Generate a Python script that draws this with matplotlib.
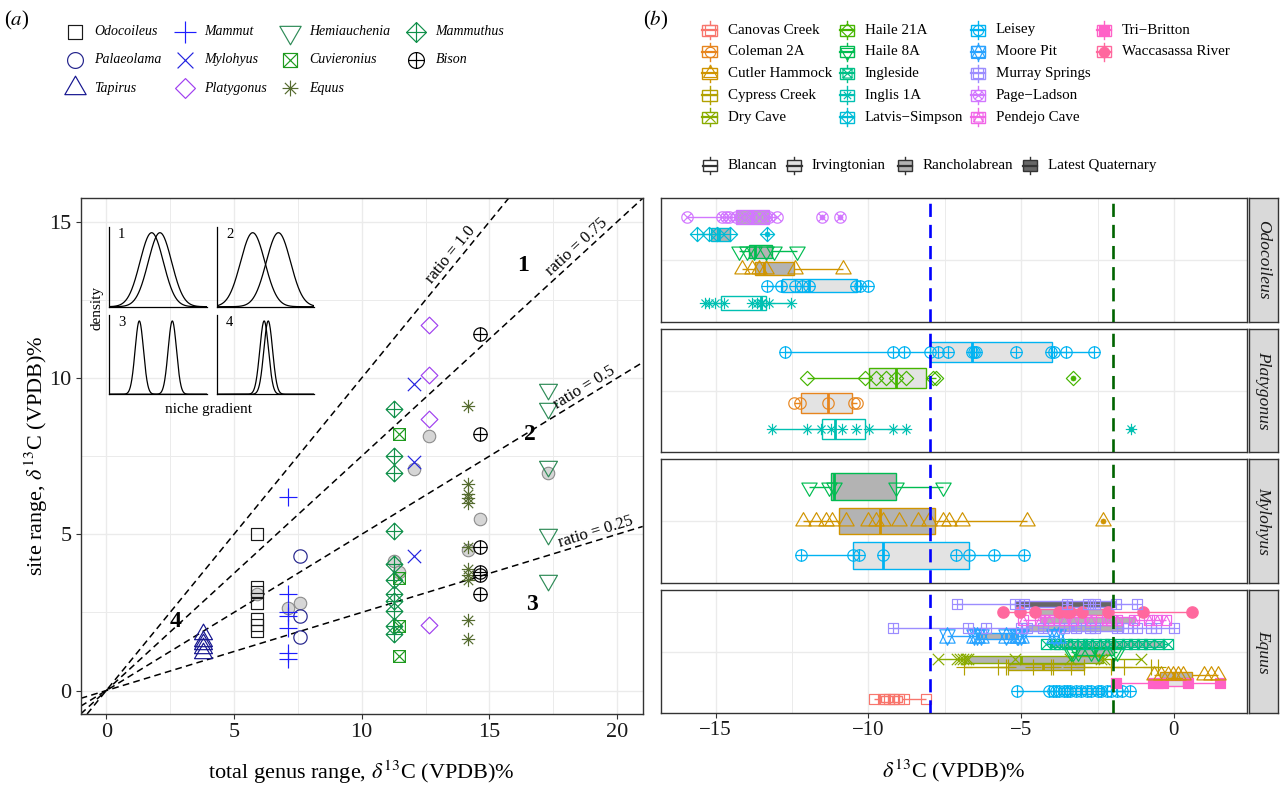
import numpy as np
import matplotlib
matplotlib.use("Agg")
import matplotlib.pyplot as plt
from matplotlib.path import Path
from matplotlib.patches import Rectangle

plt.rcParams['font.family'] = ['Liberation Serif', 'DejaVu Serif']
plt.rcParams['mathtext.fontset'] = 'stix'
plt.rcParams['axes.unicode_minus'] = True

W, H = 1282, 787

# ------------------------------------------------------------------ panel (a) data
genera = ['Odocoileus', 'Palaeolama', 'Tapirus', 'Mammut', 'Mylohyus', 'Platygonus',
          'Hemiauchenia', 'Cuvieronius', 'Equus', 'Mammuthus', 'Bison']
genus_total = [5.9, 7.6, 3.8, 7.1, 12.05, 12.65, 17.3, 11.45, 14.15, 11.25, 14.65]
odocoileus_sr = [5.0, 3.3, 3.15, 2.8, 2.3, 2.1, 1.9]
palaeolama_sr = [4.3, 2.4, 1.7]
tapirus_sr = [1.8, 1.6, 1.5, 1.35, 1.2]
mammut_sr = [6.2, 3.1, 2.5, 2.4, 2.0, 1.2, 1.0]
mylohyus_sr = [9.8, 7.3, 4.3]
platygonus_sr = [11.7, 10.1, 8.7, 2.1]
hemiauchenia_sr = [9.65, 9.05, 7.2, 5.0, 3.55]
cuvieronius_sr = [8.2, 3.6, 2.05, 1.1]
equus_sr = [9.1, 6.6, 6.3, 6.15, 6.0, 4.6, 3.9, 3.7, 3.55, 2.25, 1.65]
mammuthus_sr = [9.0, 7.5, 6.95, 5.1, 4.05, 3.55, 3.1, 2.85, 2.55, 2.05, 1.8]
bison_sr = [11.4, 8.2, 4.6, 3.8, 3.7, 3.1]
genus_site_ranges = [odocoileus_sr, palaeolama_sr, tapirus_sr, mammut_sr, mylohyus_sr,
                     platygonus_sr, hemiauchenia_sr, cuvieronius_sr, equus_sr,
                     mammuthus_sr, bison_sr]
genus_colors = ['#1A1A1A', '#23238C', '#14148F', '#1E1EFF', '#2323E0', '#A040F0',
                '#2E8B57', '#1E9A1E', '#556B2F', '#10904A', '#000000']
genus_shapes = [0, 1, 2, 3, 4, 5, 6, 7, 8, 9, 10]
grey_x = [5.9, 7.1, 7.6, 12.05, 12.65, 11.25, 11.45, 14.15, 14.65, 17.3]
grey_y = [3.1, 2.65, 2.8, 7.1, 8.15, 4.15, 3.8, 4.5, 5.5, 6.95]

ratios = [1.0, 0.75, 0.5, 0.25]
ratio_labels = ['ratio = 1.0', 'ratio = 0.75', 'ratio = 0.5', 'ratio = 0.25']
ratio_label_x = [13.75, 18.65, 18.9, 19.25]
zone_labels = ['1', '2', '3', '4']
zone_x = [16.3, 16.6, 16.65, 2.7]
zone_y = [13.6, 8.2, 2.75, 2.2]

inset_means = [[0.435, 0.52], [0.365, 0.63], [0.308, 0.647], [0.483, 0.525]]
inset_sd = [0.12, 0.125, 0.043, 0.045]

# ------------------------------------------------------------------ panel (b) data
sites_all = ['Canovas Creek', 'Coleman 2A', 'Cutler Hammock', 'Cypress Creek', 'Dry Cave',
             'Haile 21A', 'Haile 8A', 'Ingleside', 'Inglis 1A', 'Latvis-Simpson', 'Leisey',
             'Moore Pit', 'Murray Springs', 'Page-Ladson', 'Pendejo Cave', 'Tri-Britton',
             'Waccasassa River']
periods_all = ['Blancan', 'Irvingtonian', 'Rancholabrean', 'Latest Quaternary']
period_fill = ['#FFFFFF', '#E3E3E3', '#B3B3B3', '#666666']

# rows listed bottom -> top; box = (q1, median, q3, whisker low, whisker high)
odo_sites = ['Inglis 1A', 'Leisey', 'Cutler Hammock', 'Haile 8A', 'Latvis-Simpson', 'Page-Ladson']
odo_periods = ['Blancan', 'Irvingtonian', 'Rancholabrean', 'Rancholabrean', 'Rancholabrean', 'Rancholabrean']
odo_boxes = [(-14.83, -13.53, -13.37, -15.36, -12.55),
             (-12.83, -11.95, -10.37, -13.32, -10.0),
             (-13.72, -13.42, -12.44, -14.15, -10.82),
             (-13.91, -13.7, -13.15, -14.24, -12.33),
             (-15.17, -14.9, -14.52, -15.61, -14.52),
             (-14.35, -13.8, -13.26, -15.93, -12.99)]
odo_points = [[-15.36, -15.21, -15.01, -14.74, -13.81, -13.65, -13.53, -13.48, -13.26, -12.55],
              [-13.32, -12.85, -12.39, -12.17, -11.95, -10.42, -10.29, -10.0],
              [-14.15, -13.8, -13.59, -13.37, -12.39, -10.82],
              [-14.24, -13.97, -13.75, -13.37, -13.09, -12.33],
              [-15.61, -15.23, -14.95, -14.52, -13.32],
              [-15.93, -14.79, -14.68, -14.57, -14.35, -14.19, -13.91, -13.8, -13.59, -13.37,
               -13.26, -12.99, -11.53, -10.93]]

pla_sites = ['Inglis 1A', 'Coleman 2A', 'Haile 21A', 'Leisey']
pla_periods = ['Blancan', 'Irvingtonian', 'Irvingtonian', 'Irvingtonian']
pla_boxes = [(-11.51, -11.08, -10.11, -13.15, -8.77),
             (-12.22, -11.31, -10.53, -12.43, -10.36),
             (-9.98, -9.1, -8.12, -12.02, -7.79),
             (-8.0, -6.62, -4.0, -12.73, -2.61)]
pla_points = [[-13.15, -12.0, -11.57, -11.24, -10.86, -10.42, -9.98, -9.21, -8.77, -1.4],
              [-12.43, -12.25, -11.31, -10.47, -10.36],
              [-12.02, -10.11, -9.76, -9.43, -9.1, -8.77, -7.9, -7.79, -3.29],
              [-12.73, -9.21, -8.83, -8.0, -7.73, -7.4, -6.62, -6.55, -6.48, -5.17, -4.03,
               -3.92, -3.54, -2.61]]

myl_sites = ['Leisey', 'Cutler Hammock', 'Haile 8A']
myl_periods = ['Irvingtonian', 'Rancholabrean', 'Rancholabrean']
myl_boxes = [(-10.5, -9.51, -6.7, -12.22, -4.92),
             (-10.96, -9.61, -7.81, -12.16, -4.81),
             (-11.22, -11.13, -9.1, -11.95, -7.57)]
myl_points = [[-12.22, -10.52, -10.3, -9.51, -7.14, -6.7, -5.88, -4.92],
              [-12.16, -11.72, -11.4, -11.18, -10.74, -10.03, -9.76, -9.54, -8.99, -8.39,
               -8.01, -7.55, -7.35, -6.93, -4.81, -2.31],
              [-11.95, -11.3, -11.13, -9.1, -7.57]]

equ_sites = ['Canovas Creek', 'Leisey', 'Tri-Britton', 'Cutler Hammock', 'Cypress Creek',
             'Dry Cave', 'Haile 8A', 'Ingleside', 'Moore Pit', 'Murray Springs',
             'Pendejo Cave', 'Waccasassa River', 'Murray Springs']
equ_periods = ['Blancan', 'Irvingtonian', 'Irvingtonian', 'Rancholabrean', 'Rancholabrean',
               'Rancholabrean', 'Rancholabrean', 'Rancholabrean', 'Rancholabrean',
               'Rancholabrean', 'Rancholabrean', 'Rancholabrean', 'Latest Quaternary']
equ_boxes = [(-9.6, -9.2, -8.9, -9.82, -8.12),
             (-3.75, -3.05, -2.3, -5.15, -1.45),
             (-0.65, -0.44, 0.3, -1.89, 1.52),
             (-0.45, 0.0, 0.6, -0.64, 1.44),
             (-5.44, -4.3, -2.93, -6.86, -0.52),
             (-6.86, -5.0, -2.33, -7.72, -1.07),
             (-3.2, -2.6, -1.95, -3.36, -1.85),
             (-4.0, -2.9, -0.35, -4.18, -0.2),
             (-6.48, -5.5, -5.11, -7.42, -3.8),
             (-4.78, -3.3, -1.66, -9.2, 0.0),
             (-4.4, -2.9, -1.28, -4.95, -0.25),
             (-4.55, -3.45, -2.1, -5.6, 0.6),
             (-5.2, -3.5, -1.94, -7.1, -1.2)]
equ_points = [[-9.82, -9.54, -9.45, -9.32, -9.2, -9.16, -9.0, -8.83, -8.12],
              [-5.15, -4.1, -3.95, -3.85, -3.75, -3.6, -3.5, -3.4, -3.2, -3.05, -2.85, -2.7,
               -2.5, -2.4, -2.2, -2.05, -1.85, -1.7, -1.45],
              [-1.89, -0.69, -0.52, -0.36, 0.46, 1.52],
              [-0.64, -0.41, -0.2, -0.03, 0.13, 0.3, 1.0, 1.23, 1.44],
              [-6.86, -5.77, -5.5, -5.44, -4.62, -4.02, -3.97, -3.36, -2.93, -2.06, -1.62,
               -0.75, -0.52],
              [-7.72, -7.1, -7.0, -6.9, -6.8, -6.75, -5.2, -3.4, -2.4, -2.3, -1.07],
              [-3.36, -3.3, -3.15, -2.71, -2.5, -2.47, -1.95, -1.85],
              [-4.18, -3.9, -3.75, -3.5, -3.3, -3.0, -2.8, -2.55, -2.3, -2.1, -1.8, -1.55,
               -1.3, -1.05, -0.8, -0.5, -0.2],
              [-7.42, -6.54, -6.45, -6.3, -5.5, -5.15, -5.1, -5.0, -3.92, -3.8],
              [-9.2, -6.75, -6.15, -5.0, -4.8, -4.3, -3.6, -3.2, -2.75, -2.6, -1.85, -1.5,
               -1.2, -0.75, -0.6, 0.0],
              [-4.95, -4.4, -4.1, -3.6, -3.3, -2.7, -2.2, -2.05, -1.85, -1.3, -0.8, -0.55, -0.25],
              [-5.6, -5.05, -4.55, -3.75, -3.5, -3.4, -3.0, -2.15, -1.0, 0.6],
              [-7.1, -5.2, -4.9, -3.5, -2.8, -2.6, -1.9, -1.2]]

facet_names = ['Odocoileus', 'Platygonus', 'Mylohyus', 'Equus']
facet_sites = [odo_sites, pla_sites, myl_sites, equ_sites]
facet_periods = [odo_periods, pla_periods, myl_periods, equ_periods]
facet_boxes = [odo_boxes, pla_boxes, myl_boxes, equ_boxes]
facet_points = [odo_points, pla_points, myl_points, equ_points]
ref_lines = [-8.0, -2.0]
ref_colors = ['#0000FF', '#006400']


# ------------------------------------------------------------------ helpers
def hcl_hex(h, c=100.0, l=65.0):
    hr = np.deg2rad(h)
    U, V = c * np.cos(hr), c * np.sin(hr)
    Xn, Yn, Zn = 95.047, 100.0, 108.883
    Y = Yn * ((l + 16) / 116) ** 3
    den = Xn + 15 * Yn + 3 * Zn
    un, vn = 4 * Xn / den, 9 * Yn / den
    u = U / (13 * l) + un
    v = V / (13 * l) + vn
    X = 9.0 * Y * u / (4 * v)
    Z = -X / 3 - 5 * Y + 3 * Y / v
    X, Y, Z = X / 100, Y / 100, Z / 100
    r = 3.240479 * X - 1.537150 * Y - 0.498535 * Z
    g = -0.969256 * X + 1.875992 * Y + 0.041556 * Z
    b = 0.055648 * X - 0.204043 * Y + 1.057311 * Z

    def gam(t):
        t = 12.92 * t if t <= 0.0031308 else 1.055 * t ** (1 / 2.4) - 0.055
        return min(max(t, 0), 1)
    return '#%02X%02X%02X' % tuple(int(round(gam(t) * 255)) for t in (r, g, b))


nsite = len(sites_all)
site_color = {s: hcl_hex(15 + 360.0 * i / nsite) for i, s in enumerate(sites_all)}
site_shape = {s: i for i, s in enumerate(sites_all)}
period_color = dict(zip(periods_all, period_fill))


def build_shapes():
    S, D, T0, T1, T2, Y6 = 0.886, 1.2533, 1.5551, 1.3468, 0.7776, 1.166
    t = np.linspace(0, 2 * np.pi, 49)
    circ = (np.c_[np.cos(t), np.sin(t)], True)
    sq = ([(-S, -S), (S, -S), (S, S), (-S, S)], True)
    dia = ([(0, D), (D, 0), (0, -D), (-D, 0)], True)

    def plus(a):
        return [([(-a, 0), (a, 0)], False), ([(0, -a), (0, a)], False)]

    def cross(a):
        return [([(-a, -a), (a, a)], False), ([(-a, a), (a, -a)], False)]
    parts = {
        0: [sq], 1: [circ],
        2: [([(0, T0), (T1, -T2), (-T1, -T2)], True)],
        3: plus(1.414), 4: cross(1.0), 5: [dia],
        6: [([(0, -T0), (T1, T2), (-T1, T2)], True)],
        7: [sq] + cross(S), 8: plus(1.0) + cross(0.707), 9: [dia] + plus(D),
        10: [circ] + plus(1.0),
        11: [([(0, T0), (T1, -Y6), (-T1, -Y6)], True), ([(0, -T0), (T1, Y6), (-T1, Y6)], True)],
        12: [sq] + plus(S), 13: [circ] + cross(0.707),
        14: [sq, ([(-S, -S), (0, S), (S, -S)], False)],
        15: [sq], 16: [circ],
    }
    out = {}
    for k, pl in parts.items():
        verts, codes = [], []
        for pts, closed in pl:
            pts = np.asarray(pts, float)
            verts.extend(pts.tolist())
            codes += [Path.MOVETO] + [Path.LINETO] * (len(pts) - 1)
            if closed:
                verts.append(pts[0].tolist())
                codes.append(Path.CLOSEPOLY)
        verts = np.array(verts)
        out[k] = (Path(verts, codes), np.abs(verts).max(), k in (15, 16))
    return out


SHAPES = build_shapes()


def draw_shape(ax, x, y, code, color, u, zorder=5, mew=0.85, clip=True):
    path, m, filled = SHAPES[code]
    ax.plot(x, y, ls='none', marker=path, ms=2 * m * u, mec=color,
            mfc=color if filled else 'none', mew=mew, zorder=zorder, clip_on=clip)


TXT = '#1A1A1A'
GRID = '#EBEBEB'
BORDER = '#333333'

fig = plt.figure(figsize=(W / 100, H / 100), dpi=100)
fig.patch.set_facecolor('white')


def fax(x0, y0, x1, y1, **kw):
    return fig.add_axes([x0 / W, 1 - y1 / H, (x1 - x0) / W, (y1 - y0) / H], **kw)


# ------------------------------------------------------------------ panel (a)
axL = fax(80.7, 198.3, 642.7, 714.0)
axL.set_xlim(-1, 21)
axL.set_ylim(-0.75, 15.75)
axL.set_xticks([0, 5, 10, 15, 20])
axL.set_yticks([0, 5, 10, 15])
axL.set_xticks(np.arange(2.5, 20, 5), minor=True)
axL.set_yticks(np.arange(2.5, 15, 5), minor=True)
axL.grid(True, which='major', color=GRID, lw=1.0, zorder=0)
axL.grid(True, which='minor', color=GRID, lw=0.7, zorder=0)
axL.set_axisbelow(True)
axL.tick_params(which='major', length=3.5, width=0.8, color=BORDER, labelsize=16,
                labelcolor=TXT, pad=3)
axL.tick_params(which='minor', length=0)
for sp in axL.spines.values():
    sp.set_color(BORDER)
    sp.set_linewidth(1.0)

for r in ratios:
    axL.axline((0, 0), slope=r, color='black', lw=1.1, ls=(0, (4.4, 2.8)), zorder=2)

axL.plot(grey_x, grey_y, ls='none', marker='o', ms=9.0, mfc='#D6D6D6', mec='#8C8C8C',
         mew=0.8, zorder=3)

uL = 4.8
for g, xt, sr, col, shp in zip(genera, genus_total, genus_site_ranges, genus_colors, genus_shapes):
    draw_shape(axL, [xt] * len(sr), sr, shp, col, uL, zorder=4)

for r, lab, lx in zip(ratios, ratio_labels, ratio_label_x):
    p0 = axL.transData.transform((0, 0))
    p1 = axL.transData.transform((1, r))
    ang = np.degrees(np.arctan2(p1[1] - p0[1], p1[0] - p0[0]))
    d = 6.5
    axL.annotate(lab, xy=(lx, r * lx), xytext=(-np.sin(np.radians(ang)) * d,
                                               np.cos(np.radians(ang)) * d),
                 textcoords='offset points', rotation=ang, rotation_mode='anchor',
                 ha='center', va='center', fontsize=12, color='black', zorder=6)

for lab, zx, zy in zip(zone_labels, zone_x, zone_y):
    axL.text(zx, zy, lab, fontsize=17, fontweight='bold', ha='center', va='center',
             color='black', zorder=6)

# insets
inset_boxes = [(109.3, 226.7, 206.7, 306.7), (217.3, 226.7, 314.3, 306.7),
               (109.3, 315.0, 206.7, 394.3), (217.3, 315.0, 314.3, 394.3)]
xs = np.linspace(0, 1, 400)
for k, (bx, mus, sd) in enumerate(zip(inset_boxes, inset_means, inset_sd)):
    ia = fax(*bx)
    ia.patch.set_alpha(0)
    peak = 1 / (sd * np.sqrt(2 * np.pi))
    for mu in mus:
        ia.plot(xs, np.exp(-0.5 * ((xs - mu) / sd) ** 2) / (sd * np.sqrt(2 * np.pi)),
                color='black', lw=0.9)
    ia.set_xlim(0, 1)
    ia.set_ylim(0, peak / 0.925)
    ia.set_xticks([])
    ia.set_yticks([])
    for s in ['top', 'right']:
        ia.spines[s].set_visible(False)
    for s in ['left', 'bottom']:
        ia.spines[s].set_color('black')
        ia.spines[s].set_linewidth(0.9)
    ia.text(0.127, 0.9, str(k + 1), transform=ia.transAxes, fontsize=10.5,
            ha='center', va='center')

fig.text(97.3 / W, 1 - 308.3 / H, 'density', rotation=90, ha='center', va='center',
         fontsize=11)
fig.text(208.3 / W, 1 - 410 / H, 'niche gradient', ha='center', va='center', fontsize=11)

fig.text(361.7 / W, 1 - 772 / H, r'total genus range, $\delta^{13}$C (VPDB)%',
         ha='center', va='center', fontsize=16)
fig.text(36 / W, 1 - 456 / H, r'site range, $\delta^{13}$C (VPDB)%', rotation=90,
         ha='center', va='center', fontsize=16)

# ------------------------------------------------------------------ panel (b)
allv = [v for fp in facet_points for row in fp for v in row]
lo_all, hi_all = min(allv), max(allv)
pad = 0.05 * (hi_all - lo_all)
xlimR = (lo_all - pad, hi_all + pad)

uR = 4.1
ph, gap, top0 = 123.5, 7.0, 198.3
for fi, name in enumerate(facet_names):
    y0 = top0 + fi * (ph + gap)
    ax = fax(660.7, y0, 1247.0, y0 + ph)
    ax.set_xlim(*xlimR)
    ax.set_ylim(0.4, 1.6)
    ax.set_xticks([-15, -10, -5, 0])
    ax.set_xticks([-12.5, -7.5, -2.5], minor=True)
    ax.set_yticks([1])
    ax.grid(True, which='major', color=GRID, lw=1.0, zorder=0)
    ax.grid(True, which='minor', axis='x', color=GRID, lw=0.7, zorder=0)
    ax.set_axisbelow(True)
    ax.tick_params(axis='y', length=0, labelleft=False)
    ax.tick_params(which='minor', length=0)
    if fi == len(facet_names) - 1:
        ax.tick_params(axis='x', which='major', length=3.5, width=0.8, color=BORDER,
                       labelsize=15, labelcolor=TXT, pad=2)
    else:
        ax.tick_params(axis='x', which='major', length=0, labelbottom=False)
    for sp in ax.spines.values():
        sp.set_color(BORDER)
        sp.set_linewidth(1.0)

    sites = facet_sites[fi]
    n = len(sites)
    for i, (s, p, b, pts) in enumerate(zip(sites, facet_periods[fi], facet_boxes[fi],
                                           facet_points[fi])):
        yc = 0.5 + (i + 0.5) / n
        hgt = 0.78 / n
        col = site_color[s]
        q1, med, q3, wlo, whi = b
        ax.plot([wlo, q1], [yc, yc], color=col, lw=1.0, zorder=2, solid_capstyle='butt')
        ax.plot([q3, whi], [yc, yc], color=col, lw=1.0, zorder=2, solid_capstyle='butt')
        ax.add_patch(Rectangle((q1, yc - hgt / 2), q3 - q1, hgt, fc=period_color[p],
                               ec=col, lw=1.0, zorder=3))
        ax.plot([med, med], [yc - hgt / 2, yc + hgt / 2], color=col, lw=2.0, zorder=4,
                solid_capstyle='butt')
        outl = [v for v in pts if v < wlo - 1e-9 or v > whi + 1e-9]
        if outl:
            ax.plot(outl, [yc] * len(outl), ls='none', marker='o', ms=3.6, mfc=col,
                    mec=col, mew=0.5, zorder=4)
        draw_shape(ax, pts, [yc] * len(pts), site_shape[s], col, uR, zorder=5)

    for xv, cv in zip(ref_lines, ref_colors):
        ax.axvline(xv, color=cv, lw=1.9, ls=(0, (5.0, 3.0)), zorder=6)

    st = fax(1249.0, y0, 1277.5, y0 + ph)
    st.set_facecolor('#D9D9D9')
    st.set_xticks([])
    st.set_yticks([])
    for sp in st.spines.values():
        sp.set_color(BORDER)
        sp.set_linewidth(1.0)
    st.text(0.5, 0.5, name, rotation=-90, style='italic', fontsize=12.5, ha='center',
            va='center', transform=st.transAxes, color=TXT)

fig.text(954 / W, 1 - 771 / H, r'$\delta^{13}$C (VPDB)%', ha='center', va='center',
         fontsize=16)

# ------------------------------------------------------------------ legends / labels
ov = fig.add_axes([0, 0, 1, 1])
ov.set_xlim(0, W)
ov.set_ylim(H, 0)
ov.axis('off')
ov.patch.set_alpha(0)

ov.text(17, 20, r'($a$)', fontsize=15, ha='center', va='center')
ov.text(656, 20, r'($b$)', fontsize=15, ha='center', va='center')

# genus legend
leg_cols_x = [75, 185, 290, 416]
leg_rows_y = [31.7, 59.5, 88.3]
for k, (g, col, shp) in enumerate(zip(genera, genus_colors, genus_shapes)):
    c, r = k // 3, k % 3
    draw_shape(ov, [leg_cols_x[c]], [leg_rows_y[r]], shp, col, 5.7, zorder=5, clip=False)
    ov.text(leg_cols_x[c] + 19.5, leg_rows_y[r], g, style='italic', fontsize=10,
            ha='left', va='center')


def key_box(cx, cy, ec, fc):
    ov.plot([cx, cx], [cy - 8.8, cy + 8.8], color=ec, lw=1.0, zorder=3)
    ov.add_patch(Rectangle((cx - 7.2, cy - 5.5), 14.4, 11, fc=fc, ec=ec, lw=1.0, zorder=4))
    ov.plot([cx - 7.2, cx + 7.2], [cy, cy], color=ec, lw=1.6, zorder=5)


site_cols_x = [709.5, 846.7, 977.7, 1104.0]
site_rows_y = [30.0, 51.7, 73.3, 95.0, 117.0]
for k, s in enumerate(sites_all):
    c, r = k // 5, k % 5
    cx, cy = site_cols_x[c], site_rows_y[r]
    col = site_color[s]
    key_box(cx, cy, col, 'white')
    draw_shape(ov, [cx], [cy], site_shape[s], col, 3.7, zorder=6, clip=False)
    ov.text(cx + 18, cy, s.replace('-', '\u2212'), fontsize=10.8, ha='left', va='center')

period_keys_x = [710, 794.3, 905, 1030]
for p, fc, kx in zip(periods_all, period_fill, period_keys_x):
    key_box(kx, 165.5, BORDER, fc)
    ov.text(kx + 17.5, 165.5, p, fontsize=10.8, ha='left', va='center')

fig.savefig('out.png', dpi=100, facecolor='white')
